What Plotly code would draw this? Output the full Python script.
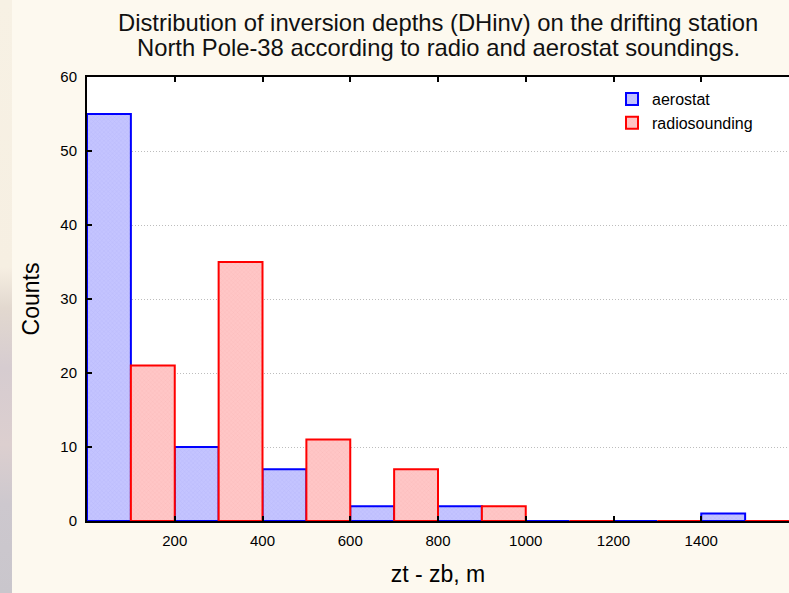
import base64
import plotly.graph_objects as go

# Histogram bins (width 100 m), the two series interleave bin by bin
bin_width = 100
aerostat_centers = [50, 250, 450, 650, 850, 1050, 1250, 1450]
aerostat_counts = [55, 10, 7, 2, 2, 0, 0, 1]
radio_centers = [150, 350, 550, 750, 950, 1150, 1350, 1550]
radio_counts = [21, 35, 11, 7, 2, 0, 0, 0]

x_ticks = [200, 400, 600, 800, 1000, 1200, 1400]
y_ticks = [0, 10, 20, 30, 40, 50, 60]

title_lines = ["Distribution of inversion depths (DHinv) on the drifting station",
               "North Pole-38 according to radio and aerostat soundings."]

FONT = "Liberation Sans, Arial, sans-serif"

# plot area geometry in pixels (used to place the title lines)
L, T, W, H = 87, 77, 702, 444

# soft photographic strip along the left edge of the page
strip_svg = """<svg xmlns='http://www.w3.org/2000/svg' width='12' height='593'>
<defs><linearGradient id='g' x1='0' y1='0' x2='0' y2='1'>
<stop offset='0' stop-color='#f7f1e4'/>
<stop offset='0.45' stop-color='#f6efe2'/>
<stop offset='0.52' stop-color='#e2d8cf'/>
<stop offset='0.62' stop-color='#d6ccd0'/>
<stop offset='0.75' stop-color='#dccfcf'/>
<stop offset='0.85' stop-color='#cdc8ce'/>
<stop offset='1' stop-color='#c9c6cc'/>
</linearGradient></defs>
<rect width='12' height='593' fill='url(#g)'/></svg>"""
strip_uri = "data:image/svg+xml;base64," + base64.b64encode(strip_svg.encode()).decode()

fig = go.Figure()

fig.add_trace(go.Bar(
    x=aerostat_centers, y=aerostat_counts, width=bin_width,
    name="aerostat",
    marker=dict(
        color="#c2c2ff",
        line=dict(color="#0000ff", width=2),
        pattern=dict(shape="x", size=3, solidity=0.15,
                     fgcolor="#9c9cf0", bgcolor="#c4c4ff"),
    ),
))

fig.add_trace(go.Bar(
    x=radio_centers, y=radio_counts, width=bin_width,
    name="radiosounding",
    marker=dict(
        color="#ffc2c2",
        line=dict(color="#ff0000", width=2),
        pattern=dict(shape="x", size=3, solidity=0.15,
                     fgcolor="#f0a0a0", bgcolor="#ffc6c6"),
    ),
))

# two-line title, each line placed on its own
title_y_px = [22, 48]
annotations = [
    dict(text=line, xref="paper", yref="paper",
         x=(438 - L) / W, y=(T + H - py) / H,
         xanchor="center", yanchor="middle", showarrow=False,
         font=dict(family=FONT, size=23.8, color="#111111"))
    for line, py in zip(title_lines, title_y_px)
]

fig.update_layout(
    width=789, height=593,
    margin=dict(l=L, r=789 - L - W, t=T, b=593 - T - H),
    paper_bgcolor="#fdf9ef",
    plot_bgcolor="#ffffff",
    barmode="overlay",
    font=dict(family=FONT, color="#000000", size=15),
    annotations=annotations,
    legend=dict(
        x=(612 - L) / W, xanchor="left",
        y=1 - (82 - T) / H, yanchor="top",
        bgcolor="rgba(0,0,0,0)",
        font=dict(family=FONT, size=16, color="#000000"),
        tracegroupgap=0,
    ),
    images=[dict(
        source=strip_uri, xref="paper", yref="paper",
        x=-L / W, y=1 + T / H, sizex=12 / W, sizey=593 / H,
        xanchor="left", yanchor="top", sizing="stretch", layer="below",
    )],
)

fig.update_xaxes(
    range=[0, 1600],
    tickvals=x_ticks,
    ticks="inside", ticklen=5, tickwidth=1.5, tickcolor="#000000",
    ticklabelstandoff=5,
    showline=True, linecolor="#000000", linewidth=2,
    mirror="ticks",
    showgrid=False, zeroline=False,
    tickfont=dict(family=FONT, size=15),
    title=dict(text="zt - zb, m", font=dict(family=FONT, size=23), standoff=18),
)

fig.update_yaxes(
    range=[0, 60],
    tickvals=y_ticks,
    ticks="inside", ticklen=5, tickwidth=1.5, tickcolor="#000000",
    ticklabelstandoff=5,
    showline=True, linecolor="#000000", linewidth=2,
    mirror=False,
    showgrid=True, gridcolor="#bdbdbd", griddash="1px,2px", gridwidth=1,
    zeroline=False,
    tickfont=dict(family=FONT, size=15),
    title=dict(text="Counts", font=dict(family=FONT, size=23), standoff=14),
)

fig.write_html("out.html")
